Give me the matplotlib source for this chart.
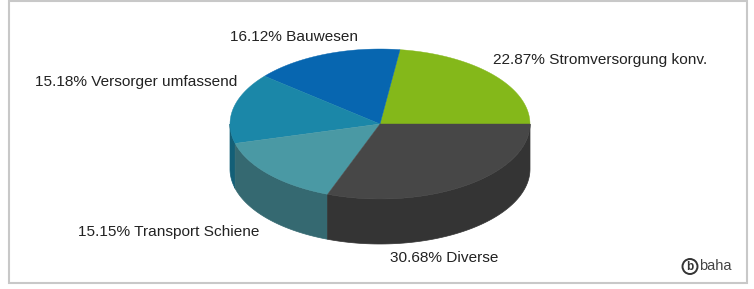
import numpy as np
import matplotlib
matplotlib.use("Agg")
from matplotlib import pyplot as plt
from matplotlib.patches import Polygon, Rectangle, Ellipse

# data, counter-clockwise from 3 o'clock
labels = ["Stromversorgung konv.", "Bauwesen", "Versorger umfassend",
          "Transport Schiene", "Diverse"]
shares = [22.87, 16.12, 15.18, 15.15, 30.68]
top_colors = ["#84b81a", "#0766b0", "#1b87a8", "#4a99a4", "#474747"]
side_colors = ["#5f8a10", "#054c85", "#135f77", "#356971", "#343434"]

plt.rcParams['font.family'] = ['Liberation Sans', 'DejaVu Sans']

fig = plt.figure(figsize=(7.54, 2.89), dpi=100)
ax = fig.add_axes([0, 0, 1, 1])
ax.set_xlim(0, 754)
ax.set_ylim(289, 0)
ax.axis("off")

# frame
ax.add_patch(Rectangle((8.5, 0.5), 738, 282.5, fill=False, ec="#c8c8c8", lw=1.5))

cx, cy, rx, ry, depth = 380, 124, 150, 75, 45


def arc(a0, a1, dy=0, n=80):
    t = np.radians(np.linspace(a0, a1, n))
    return np.column_stack([cx + rx * np.cos(t), cy - ry * np.sin(t) + dy])


bounds = np.concatenate([[0], np.cumsum(shares)]) / sum(shares) * 360

# side walls (front half only: 180..360 deg)
for i in range(len(shares)):
    a0, a1 = max(bounds[i], 180), min(bounds[i + 1], 360)
    if a1 <= a0:
        continue
    pts = np.vstack([arc(a0, a1), arc(a1, a0, dy=depth)])
    ax.add_patch(Polygon(pts, closed=True, fc=side_colors[i],
                         ec=side_colors[i], lw=0.5))

# top face
for i in range(len(shares)):
    pts = np.vstack([[cx, cy], arc(bounds[i], bounds[i + 1])])
    ax.add_patch(Polygon(pts, closed=True, fc=top_colors[i], ec=top_colors[i], lw=0.3))

# labels
label_pos = [(493, 60, "left"), (358, 37, "right"), (237, 82, "right"),
             (259, 232, "right"), (390, 258, "left")]
for lab, val, (x, y, ha) in zip(labels, shares, label_pos):
    ax.text(x, y, f"{val:.2f}% {lab}", ha=ha, va="center", fontsize=11.1,
            color="#222222")

# logo
ax.add_patch(Ellipse((690, 266.5), 15, 15, fill=False, ec="#333333", lw=1.4))
ax.text(690, 266.5, "b", ha="center", va="center", fontsize=8.5,
        fontweight="bold", color="#333333")
ax.text(699, 266.5, "baha", ha="left", va="center", fontsize=10.5, color="#444444")

fig.savefig("out.png", dpi=100)
